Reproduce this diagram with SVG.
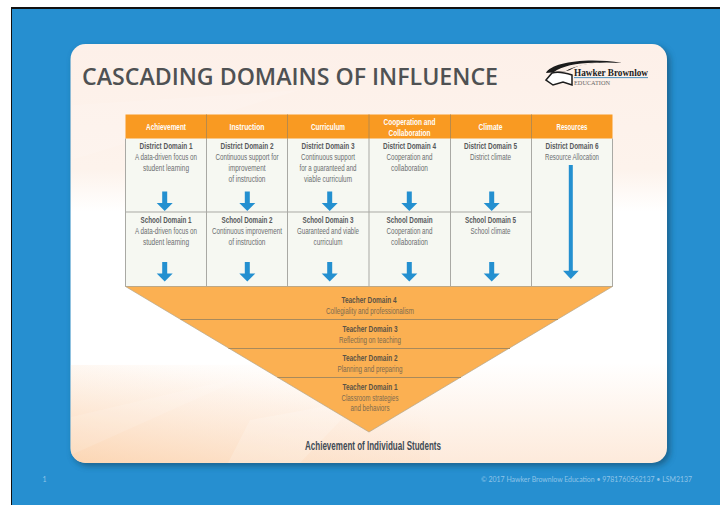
<svg xmlns="http://www.w3.org/2000/svg" width="720" height="505" viewBox="0 0 720 505">
<defs>
<linearGradient id="card" x1="0" y1="0" x2="0" y2="1">
<stop offset="0" stop-color="#fdf0e9"/><stop offset="0.3" stop-color="#fdf3ec"/><stop offset="0.4" stop-color="#ffffff"/><stop offset="0.76" stop-color="#ffffff"/><stop offset="0.9" stop-color="#fef3ea"/><stop offset="1" stop-color="#fdeadb"/>
</linearGradient>
<linearGradient id="warm" x1="0" y1="1" x2="0.75" y2="0">
<stop offset="0" stop-color="#fbcfa6" stop-opacity="0.75"/><stop offset="0.65" stop-color="#fde3cd" stop-opacity="0.25"/><stop offset="1" stop-color="#fff" stop-opacity="0"/>
</linearGradient>
<clipPath id="cc"><rect x="70.5" y="44" width="596.5" height="419" rx="15"/></clipPath>
<filter id="sh" x="-5%" y="-5%" width="112%" height="112%"><feGaussianBlur stdDeviation="3"/></filter>
<path id="a" d="M-2.5 -19.5H2.5V-8H8L0 0L-8 -8H-2.5Z" fill="#2490d0"/>
<style>
text{font-family:"Liberation Sans Narrow","Liberation Sans",Arial,sans-serif;text-anchor:middle;font-size:9px;fill:#6b6e70}
.b{font-weight:bold;fill:#57595b}
.h{font-weight:bold;fill:#fff;font-size:9.5px}
.t{fill:#7d6b50}
.tb{font-weight:bold;fill:#5a5245}
.g{stroke:#a9a9a4;stroke-width:1;fill:none}
.o{stroke:#a88a5c;stroke-width:1;fill:none}
</style>
</defs>
<rect width="720" height="505" fill="#fff"/>
<rect x="11" y="7" width="709" height="498" fill="#111"/>
<rect x="12" y="9" width="708" height="496" fill="#268fd0"/>
<g id="card-panel">
<rect x="73" y="47" width="597" height="419" rx="15" fill="#14506f" opacity="0.7" filter="url(#sh)"/>
<rect x="70.5" y="44" width="596.5" height="419" rx="15" fill="url(#card)"/>
<g clip-path="url(#cc)">
<path d="M70.5 365H430V463H70.5Z" fill="url(#warm)"/>
<path d="M71 417L250 375L71 455Z" fill="#fff" opacity="0.12"/>
<path d="M228 463L250 420L360 400L300 463Z" fill="#fff" opacity="0.18"/>
<path d="M72 105L300 90L72 160Z" fill="#fff" opacity="0.1"/>
</g>
</g>
<text id="title" x="290" y="85" textLength="416" lengthAdjust="spacingAndGlyphs" style="font-family:'Open Sans','Liberation Sans',sans-serif;font-size:24px;font-weight:600;fill:#4f5153">CASCADING DOMAINS OF INFLUENCE</text>
<g id="logo">
<path d="M546 73C551 63 585 57 622 63C596 61 578 64 570 70C564 72 554 72 546 73Z" fill="#1c1c1c"/>
<path d="M554 72C562 66 580 62 600 63C584 64 572 67 566 71Z" fill="#fbeee6"/>
<path d="M546 80L552 73C558 71 566 73 572 75L572 85L563 82L553 85Z" fill="#fff" stroke="#1c1c1c" stroke-width="1.5"/>
<text x="611" y="76" textLength="74" lengthAdjust="spacingAndGlyphs" style="font-family:'Liberation Serif',serif;font-weight:bold;font-size:9.5px;fill:#222">Hawker Brownlow</text>
<rect x="574" y="77.2" width="74" height="0.9" fill="#3a86b8"/>
<text x="592" y="85" textLength="36" lengthAdjust="spacingAndGlyphs" style="font-family:'Liberation Serif',serif;font-size:7px;fill:#666">EDUCATION</text>
</g>
<g id="table">
<rect x="125.5" y="138.5" width="487" height="148" fill="#f6f8f2"/>
<rect x="125.5" y="114.5" width="487" height="24" fill="#f99a22"/>
<path class="g" d="M125.5 138.5V286.5H612.5V138.5M206.5 138.5V286.5M287.5 138.5V286.5M369 138.5V286.5M450.5 138.5V286.5M531.5 138.5V286.5M125.5 212H531.5"/>
<path d="M206.5 114.5V138.5M287.5 114.5V138.5M369 114.5V138.5M450.5 114.5V138.5M531.5 114.5V138.5" stroke="#b98a4a" stroke-width="1" fill="none"/>
</g>
<g id="col-achievement">
<text class="h" x="166" y="130" textLength="40" lengthAdjust="spacingAndGlyphs">Achievement</text>
<text class="b" x="166" y="149" textLength="53" lengthAdjust="spacingAndGlyphs">District Domain 1</text>
<text x="166" y="160" textLength="62" lengthAdjust="spacingAndGlyphs">A data-driven focus on</text>
<text x="166" y="170.5" textLength="46" lengthAdjust="spacingAndGlyphs">student learning</text>
<text class="b" x="166" y="223" textLength="51" lengthAdjust="spacingAndGlyphs">School Domain 1</text>
<text x="166" y="233.5" textLength="62" lengthAdjust="spacingAndGlyphs">A data-driven focus on</text>
<text x="166" y="244.5" textLength="46" lengthAdjust="spacingAndGlyphs">student learning</text>
</g>
<g id="col-instruction">
<text class="h" x="247" y="130" textLength="35" lengthAdjust="spacingAndGlyphs">Instruction</text>
<text class="b" x="247" y="149" textLength="53" lengthAdjust="spacingAndGlyphs">District Domain 2</text>
<text x="247" y="160" textLength="63" lengthAdjust="spacingAndGlyphs">Continuous support for</text>
<text x="247" y="171" textLength="37" lengthAdjust="spacingAndGlyphs">improvement</text>
<text x="247" y="181.5" textLength="37" lengthAdjust="spacingAndGlyphs">of instruction</text>
<text class="b" x="247" y="223" textLength="51" lengthAdjust="spacingAndGlyphs">School Domain 2</text>
<text x="247" y="233.5" textLength="70" lengthAdjust="spacingAndGlyphs">Continuous improvement</text>
<text x="247" y="244.5" textLength="37" lengthAdjust="spacingAndGlyphs">of instruction</text>
</g>
<g id="col-curriculum">
<text class="h" x="328" y="130" textLength="34" lengthAdjust="spacingAndGlyphs">Curriculum</text>
<text class="b" x="328" y="149" textLength="53" lengthAdjust="spacingAndGlyphs">District Domain 3</text>
<text x="328" y="160" textLength="54" lengthAdjust="spacingAndGlyphs">Continuous support</text>
<text x="328" y="171" textLength="57" lengthAdjust="spacingAndGlyphs">for a guaranteed and</text>
<text x="328" y="181.5" textLength="48" lengthAdjust="spacingAndGlyphs">viable curriculum</text>
<text class="b" x="328" y="223" textLength="51" lengthAdjust="spacingAndGlyphs">School Domain 3</text>
<text x="328" y="233.5" textLength="62" lengthAdjust="spacingAndGlyphs">Guaranteed and viable</text>
<text x="328" y="244.5" textLength="29" lengthAdjust="spacingAndGlyphs">curriculum</text>
</g>
<g id="col-cooperation">
<text class="h" x="409.5" y="125" textLength="52" lengthAdjust="spacingAndGlyphs">Cooperation and</text>
<text class="h" x="409.5" y="136" textLength="42" lengthAdjust="spacingAndGlyphs">Collaboration</text>
<text class="b" x="409.5" y="149" textLength="53" lengthAdjust="spacingAndGlyphs">District Domain 4</text>
<text x="409.5" y="160" textLength="46" lengthAdjust="spacingAndGlyphs">Cooperation and</text>
<text x="409.5" y="170.5" textLength="37" lengthAdjust="spacingAndGlyphs">collaboration</text>
<text class="b" x="409.5" y="223" textLength="46" lengthAdjust="spacingAndGlyphs">School Domain</text>
<text x="409.5" y="233.5" textLength="46" lengthAdjust="spacingAndGlyphs">Cooperation and</text>
<text x="409.5" y="244.5" textLength="37" lengthAdjust="spacingAndGlyphs">collaboration</text>
</g>
<g id="col-climate">
<text class="h" x="490.5" y="130" textLength="24" lengthAdjust="spacingAndGlyphs">Climate</text>
<text class="b" x="490.5" y="149" textLength="53" lengthAdjust="spacingAndGlyphs">District Domain 5</text>
<text x="490.5" y="160" textLength="41" lengthAdjust="spacingAndGlyphs">District climate</text>
<text class="b" x="490.5" y="223" textLength="51" lengthAdjust="spacingAndGlyphs">School Domain 5</text>
<text x="490.5" y="233.5" textLength="40" lengthAdjust="spacingAndGlyphs">School climate</text>
</g>
<g id="col-resources">
<text class="h" x="572" y="130" textLength="31" lengthAdjust="spacingAndGlyphs">Resources</text>
<text class="b" x="572" y="149" textLength="53" lengthAdjust="spacingAndGlyphs">District Domain 6</text>
<text x="572" y="160" textLength="54" lengthAdjust="spacingAndGlyphs">Resource Allocation</text>
</g>
<g id="connectors">
<use href="#a" x="164.7" y="211"/><use href="#a" x="247.3" y="211"/><use href="#a" x="329.7" y="211"/><use href="#a" x="409.3" y="211"/><use href="#a" x="491.7" y="211"/>
<use href="#a" x="164.7" y="281.5"/><use href="#a" x="247.3" y="281.5"/><use href="#a" x="329.7" y="281.5"/><use href="#a" x="409.3" y="281.5"/><use href="#a" x="491.7" y="281.5"/>
<path d="M568.8 165H572.8V270.7H578.7L570.8 279L563 270.7H568.8Z" fill="#2490d0"/>
</g>
<g id="pyramid">
<path d="M125.5 286.5H612.5L369 432Z" fill="#fbb052" stroke="#b3a68c" stroke-width="0.7"/>
<path class="o" d="M180.5 319.5H558M228.5 348.5H510M277.5 377.5H461"/>
</g>
<g id="teacher-4"><text class="tb" x="369" y="303" textLength="55" lengthAdjust="spacingAndGlyphs">Teacher Domain 4</text><text class="t" x="370" y="313.5" textLength="88" lengthAdjust="spacingAndGlyphs">Collegiality and professionalism</text></g>
<g id="teacher-3"><text class="tb" x="370" y="332" textLength="55" lengthAdjust="spacingAndGlyphs">Teacher Domain 3</text><text class="t" x="370" y="342.5" textLength="62" lengthAdjust="spacingAndGlyphs">Reflecting on teaching</text></g>
<g id="teacher-2"><text class="tb" x="370" y="361" textLength="55" lengthAdjust="spacingAndGlyphs">Teacher Domain 2</text><text class="t" x="370" y="372" textLength="65" lengthAdjust="spacingAndGlyphs">Planning and preparing</text></g>
<g id="teacher-1"><text class="tb" x="370" y="390" textLength="55" lengthAdjust="spacingAndGlyphs">Teacher Domain 1</text><text class="t" x="370" y="400.5" textLength="57" lengthAdjust="spacingAndGlyphs">Classroom strategies</text><text class="t" x="370" y="411" textLength="39" lengthAdjust="spacingAndGlyphs">and behaviors</text></g>
<text id="outcome" class="b" x="373" y="449.5" textLength="136" lengthAdjust="spacingAndGlyphs" style="font-size:12px;fill:#3f4b55">Achievement of Individual Students</text>
<text id="page" x="44.5" y="482" style="font-family:'Lato',sans-serif;font-size:7px;fill:#8fc4e8">1</text>
<text id="credit" x="586.5" y="482" textLength="211" lengthAdjust="spacingAndGlyphs" style="font-family:'Lato',sans-serif;font-size:7px;fill:#8fc4e8">© 2017 Hawker Brownlow Education • 9781760562137 • LSM2137</text>
</svg>
